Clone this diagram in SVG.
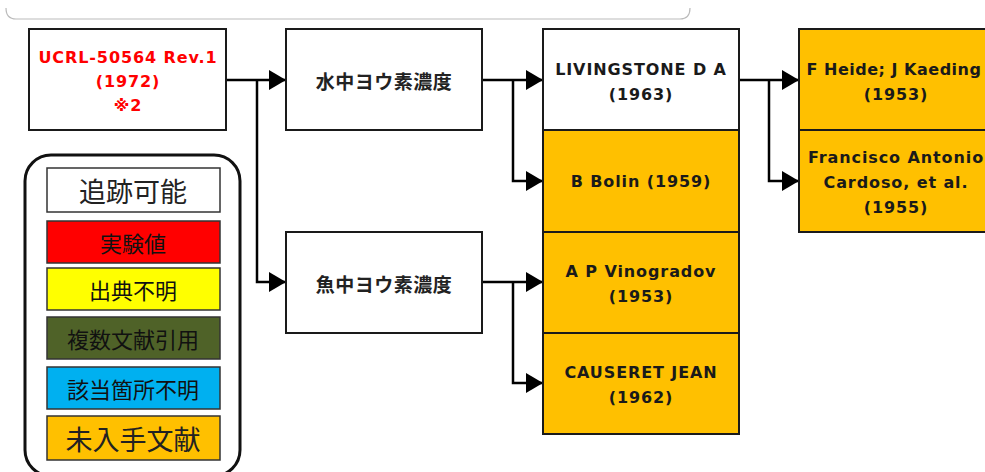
<svg xmlns="http://www.w3.org/2000/svg" width="985" height="472" viewBox="0 0 985 472">
<style>
.bg{fill:#fff}
.node{stroke:#1a1a1a;stroke-width:2}
.w{fill:#fff}
.o{fill:#FFC000}
.t{font-family:"DejaVu Sans","Noto Sans CJK JP",sans-serif;font-weight:bold;font-size:16px;letter-spacing:0.9px;fill:#1a1a1a;text-anchor:middle}
.red{fill:#FF0000}
.jp{font-family:"Noto Sans CJK JP",sans-serif;font-weight:bold;font-size:19px;fill:#222;text-anchor:middle;dominant-baseline:central;letter-spacing:0.5px}
.conn{fill:none;stroke:#000;stroke-width:2.5;marker-end:url(#arr)}
.lg{stroke:#333;stroke-width:1.5}
.lt{font-family:"Noto Sans CJK JP",sans-serif;font-size:22px;fill:#111;text-anchor:middle;dominant-baseline:central}
.lt2{font-family:"Noto Sans CJK JP",sans-serif;font-size:27px;fill:#222;text-anchor:middle;dominant-baseline:central}
</style>
<defs>
<marker id="arr" markerUnits="userSpaceOnUse" markerWidth="18" markerHeight="20" refX="17" refY="10" orient="auto">
<path d="M0,0 L17,10 L0,20 z" fill="#000"/>
</marker>
</defs>
<rect class="bg" x="0" y="0" width="985" height="472"/>
<path d="M6,8 Q6,19 16,19 H680 Q690,19 690,8" fill="none" stroke="#bbb" stroke-width="1.2"/>

<g id="connectors">
<path class="conn" d="M226,80 H286"/>
<path class="conn" d="M257,80 V282 H286"/>
<path class="conn" d="M482,80 H543"/>
<path class="conn" d="M513,80 V181 H543"/>
<path class="conn" d="M482,282 H543"/>
<path class="conn" d="M513,282 V383 H543"/>
<path class="conn" d="M739,80 H799"/>
<path class="conn" d="M769,80 V181 H799"/>
</g>

<g id="ucrl">
<rect class="node w" x="29" y="29" width="197" height="101"/>
<text class="t red" x="128" y="63">UCRL-50564 Rev.1</text>
<text class="t red" x="128" y="87">(1972)</text>
<text class="t red" x="128" y="111">※2</text>
</g>

<g id="suichu">
<rect class="node w" x="286" y="29" width="196" height="101"/>
<text class="jp" x="384" y="80">水中ヨウ素濃度</text>
</g>

<g id="gyochu">
<rect class="node w" x="286" y="232" width="196" height="101"/>
<text class="jp" x="384" y="283">魚中ヨウ素濃度</text>
</g>

<g id="livingstone">
<rect class="node w" x="543" y="29" width="196" height="101"/>
<text class="t" x="641" y="75">LIVINGSTONE D A</text>
<text class="t" x="641" y="100">(1963)</text>
</g>

<g id="bolin">
<rect class="node o" x="543" y="130" width="196" height="102"/>
<text class="t" x="641" y="187">B Bolin (1959)</text>
</g>

<g id="vinogradov">
<rect class="node o" x="543" y="232" width="196" height="101"/>
<text class="t" x="641" y="277">A P Vinogradov</text>
<text class="t" x="641" y="302">(1953)</text>
</g>

<g id="causeret">
<rect class="node o" x="543" y="333" width="196" height="101"/>
<text class="t" x="641" y="378">CAUSERET JEAN</text>
<text class="t" x="641" y="403">(1962)</text>
</g>

<g id="heide">
<rect class="node o" x="799" y="29" width="197" height="101"/>
<text class="t" x="894" y="75" style="letter-spacing:0.5px">F Heide; J Kaeding</text>
<text class="t" x="896" y="100">(1953)</text>
</g>

<g id="cardoso">
<rect class="node o" x="799" y="130" width="197" height="102"/>
<text class="t" x="896" y="163">Francisco Antonio</text>
<text class="t" x="896" y="188">Cardoso, et al.</text>
<text class="t" x="896" y="213">(1955)</text>
</g>

<g id="legend">
<rect x="25" y="155" width="215" height="321" rx="26" ry="26" fill="#fff" stroke="#111" stroke-width="3"/>
<rect class="lg" x="47" y="168" width="173" height="44" fill="#fff"/>
<text class="lt2" x="133" y="190">追跡可能</text>
<rect class="lg" x="47" y="221" width="173" height="42" fill="#FF0000"/>
<text class="lt" x="133" y="242">実験値</text>
<rect class="lg" x="47" y="268" width="173" height="42" fill="#FFFF00"/>
<text class="lt" x="133" y="289">出典不明</text>
<rect class="lg" x="47" y="317" width="173" height="42" fill="#4F6228"/>
<text class="lt" x="133" y="338">複数文献引用</text>
<rect class="lg" x="47" y="367" width="173" height="42" fill="#00B0F0"/>
<text class="lt" x="133" y="388">該当箇所不明</text>
<rect class="lg" x="47" y="416" width="173" height="44" fill="#FFC000"/>
<text class="lt2" x="133" y="438">未入手文献</text>
</g>
</svg>
